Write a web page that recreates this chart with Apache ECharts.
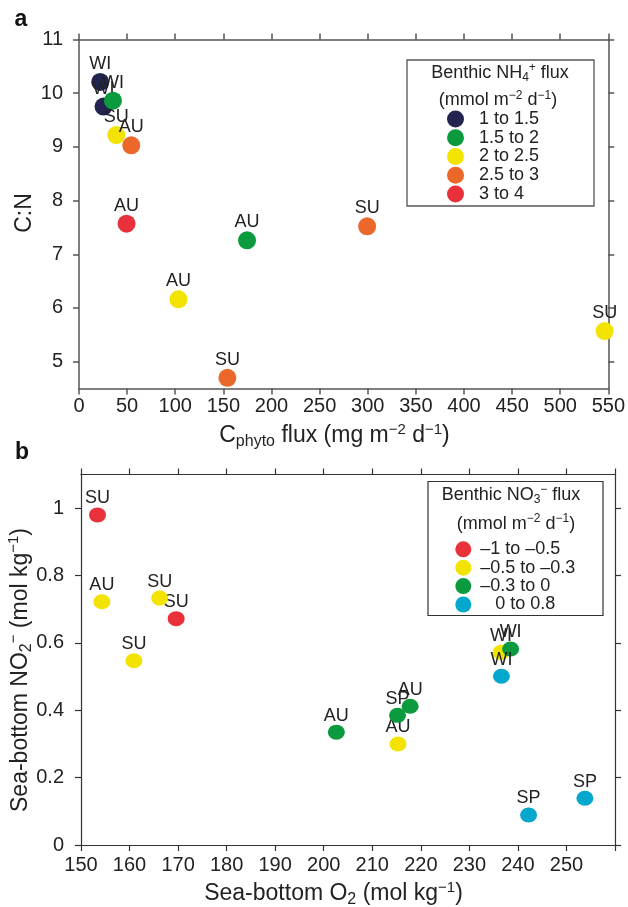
<!DOCTYPE html>
<html>
<head>
<meta charset="utf-8">
<script src="https://cdn.jsdelivr.net/npm/echarts@6/dist/echarts.min.js"></script>
<style>
html,body{margin:0;padding:0;background:#fff;}
#chart{width:628px;height:907px;}
</style>
</head>
<body>
<div id="chart"></div>
<script>
// ---------- Panel a data ----------
const aGroupNames = ['1 to 1.5', '1.5 to 2', '2 to 2.5', '2.5 to 3', '3 to 4'];
const aGroupColors = ['#22244f', '#0c9a3e', '#f2e400', '#ec682a', '#e8313a'];
const aFlux   = [22, 25.5, 35.3, 174.6, 38.7, 103.3, 546.2, 54.3, 154.2, 299.4, 49.4];
const aCN     = [10.21, 9.75, 9.86, 7.26, 9.22, 6.16, 5.57, 9.03, 4.70, 7.52, 7.57];
const aSeason = ['WI', 'WI', 'WI', 'AU', 'SU', 'AU', 'SU', 'AU', 'SU', 'SU', 'AU'];
const aGroup  = [0, 0, 1, 1, 2, 2, 2, 3, 3, 3, 4];
const aXTicks = [0, 50, 100, 150, 200, 250, 300, 350, 400, 450, 500, 550];
const aYTicks = [5, 6, 7, 8, 9, 10, 11];

// ---------- Panel b data ----------
const bGroupNames = ['\u20131 to \u20130.5', '\u20130.5 to \u20130.3', '\u20130.3 to 0', '0 to 0.8'];
const bGroupColors = ['#e8313a', '#f2e400', '#0c9a3e', '#06a7cd'];
const bO2     = [153.4, 169.6, 154.3, 166.2, 160.9, 215.3, 236.5, 202.6, 215.2, 217.8, 238.5, 236.6, 242.2, 253.8];
const bNO2    = [0.98, 0.672, 0.722, 0.733, 0.547, 0.30, 0.572, 0.335, 0.385, 0.412, 0.582, 0.501, 0.089, 0.139];
const bSeason = ['SU', 'SU', 'AU', 'SU', 'SU', 'AU', 'WI', 'AU', 'SP', 'AU', 'WI', 'WI', 'SP', 'SP'];
const bGroup  = [0, 0, 1, 1, 1, 1, 1, 2, 2, 2, 2, 3, 3, 3];
const bXTicks = [150, 160, 170, 180, 190, 200, 210, 220, 230, 240, 250];
const bYTicks = [0, 0.2, 0.4, 0.6, 0.8, 1];

const FONT = "'Liberation Sans', Arial, Helvetica, sans-serif";
const TXT = '#222';

function groupData(xs, ys, labels, groups, g) {
  const out = [];
  for (let i = 0; i < xs.length; i++) {
    if (groups[i] === g) out.push({ value: [xs[i], ys[i]], name: labels[i] });
  }
  return out;
}

function axisCommon(color, width) {
  return {
    axisLine: { show: true, onZero: false, lineStyle: { color: color, width: width } },
    axisTick: { show: true, inside: false, length: 6, lineStyle: { color: color, width: width } },
    splitLine: { show: false }
  };
}

const aAx = axisCommon('#555', 1.5);
const bAx = axisCommon('#333', 1.2);
const tickLabel = { fontSize: 20, color: TXT, fontFamily: FONT };

const series = [];
aGroupNames.forEach((nm, g) => {
  series.push({
    type: 'scatter', name: nm, xAxisIndex: 0, yAxisIndex: 0,
    z: 2 + g,
    symbol: 'circle', symbolSize: 18,
    itemStyle: { color: aGroupColors[g], opacity: 1 },
    label: { show: true, position: 'top', distance: 0, formatter: '{b}', fontSize: 18, color: TXT, fontFamily: FONT },
    emphasis: { disabled: true },
    data: groupData(aFlux, aCN, aSeason, aGroup, g)
  });
});
bGroupNames.forEach((nm, g) => {
  series.push({
    type: 'scatter', name: nm, xAxisIndex: 2, yAxisIndex: 2,
    z: 2 + g,
    symbol: 'circle', symbolSize: [17, 15],
    itemStyle: { color: bGroupColors[g], opacity: 1 },
    label: { show: true, position: 'top', distance: 0, formatter: '{b}', fontSize: 18, color: TXT, fontFamily: FONT },
    emphasis: { disabled: true },
    data: groupData(bO2, bNO2, bSeason, bGroup, g)
  });
});

const supSub = {
  n:   { fontSize: 23, lineHeight: 28, color: TXT, fontFamily: FONT },
  sub: { fontSize: 16, lineHeight: 15, verticalAlign: 'bottom', color: TXT, fontFamily: FONT },
  sup: { fontSize: 15, lineHeight: 17, verticalAlign: 'top', color: TXT, fontFamily: FONT }
};
const legSupSub = {
  n:   { fontSize: 18, lineHeight: 22, color: TXT, fontFamily: FONT },
  sub: { fontSize: 12, lineHeight: 11, verticalAlign: 'bottom', color: TXT, fontFamily: FONT },
  sup: { fontSize: 12, lineHeight: 12, verticalAlign: 'top', color: TXT, fontFamily: FONT }
};

function richText(x, y, text, rich, rot) {
  return {
    type: 'text', x: x, y: y, rotation: rot || 0, z: 100,
    style: { text: text, rich: rich, align: 'center', verticalAlign: 'middle', fill: TXT, fontFamily: FONT }
  };
}

const option = {
  backgroundColor: '#fff',
  animation: false,
  grid: [
    { left: 79, top: 39.5, width: 530, height: 349 },
    { left: 81, top: 474.5, width: 534, height: 370.5 }
  ],
  xAxis: [
    Object.assign({ type: 'value', gridIndex: 0, position: 'bottom', min: 0, max: 550, interval: 50,
      axisLabel: Object.assign({ margin: 8 }, tickLabel) }, aAx),
    Object.assign({ type: 'value', gridIndex: 0, position: 'top', min: 0, max: 550, interval: 50,
      axisLabel: { show: false } }, aAx),
    Object.assign({ type: 'value', gridIndex: 1, position: 'bottom', min: 150, max: 260, interval: 10,
      axisLabel: Object.assign({ margin: 10, customValues: bXTicks }, tickLabel) }, bAx),
    Object.assign({ type: 'value', gridIndex: 1, position: 'top', min: 150, max: 260, interval: 10,
      axisLabel: { show: false } }, bAx)
  ],
  yAxis: [
    Object.assign({}, aAx, { type: 'value', gridIndex: 0, position: 'left', min: 4.5, max: 11,
      axisTick: Object.assign({}, aAx.axisTick, { customValues: aYTicks }),
      axisLabel: Object.assign({ margin: 16, customValues: aYTicks }, tickLabel) }),
    Object.assign({}, aAx, { type: 'value', gridIndex: 0, position: 'right', min: 4.5, max: 11,
      axisTick: Object.assign({}, aAx.axisTick, { customValues: aYTicks }),
      axisLabel: { show: false } }),
    Object.assign({}, bAx, { type: 'value', gridIndex: 1, position: 'left', min: 0, max: 1.1,
      axisTick: Object.assign({}, bAx.axisTick, { customValues: bYTicks }),
      axisLabel: Object.assign({ margin: 17, customValues: bYTicks }, tickLabel) }),
    Object.assign({}, bAx, { type: 'value', gridIndex: 1, position: 'right', min: 0, max: 1.1,
      axisTick: Object.assign({}, bAx.axisTick, { customValues: bYTicks }),
      axisLabel: { show: false } })
  ],
  legend: [
    {
      data: aGroupNames, orient: 'vertical', left: 447, top: 110, padding: 0,
      itemWidth: 17, itemHeight: 17, itemGap: 0.75, icon: 'circle', selectedMode: false,
      textStyle: { fontSize: 18, color: TXT, fontFamily: FONT, padding: [0, 0, 0, 10] }
    },
    {
      data: bGroupNames, orient: 'vertical', left: 455.3, top: 540.3, padding: 0,
      itemWidth: 16, itemHeight: 16, itemGap: 0.4, icon: 'circle', selectedMode: false,
      formatter: function (n) { return n === '0 to 0.8' ? '   ' + n : n; },
      textStyle: { fontSize: 18, color: TXT, fontFamily: FONT, padding: [0, 0, 0, 4] }
    }
  ],
  graphic: [
    // legend boxes
    { type: 'rect', shape: { x: 407, y: 60, width: 187, height: 146 }, z: 50,
      style: { fill: 'none', stroke: '#555', lineWidth: 1.3 } },
    { type: 'rect', shape: { x: 428, y: 481.5, width: 175, height: 134 }, z: 50,
      style: { fill: 'none', stroke: '#333', lineWidth: 1.2 } },
    richText(500, 73, '{n|Benthic NH}{sub|4}{sup|+}{n| flux}', legSupSub),
    richText(498, 100.5, '{n|(mmol m}{sup|\u22122}{n| d}{sup|\u22121}{n|)}', legSupSub),
    richText(511, 495, '{n|Benthic NO}{sub|3}{sup|\u2212}{n| flux}', legSupSub),
    richText(516, 524, '{n|(mmol m}{sup|\u22122}{n| d}{sup|\u22121}{n|)}', legSupSub),
    // panel letters
    { type: 'text', x: 21, y: 20, z: 100,
      style: { text: 'a', fontSize: 23, fontWeight: 'bold', fill: '#111', fontFamily: FONT, align: 'center', verticalAlign: 'middle' } },
    { type: 'text', x: 22, y: 453, z: 100,
      style: { text: 'b', fontSize: 23, fontWeight: 'bold', fill: '#111', fontFamily: FONT, align: 'center', verticalAlign: 'middle' } },
    // axis titles
    richText(334.5, 436, '{n|C}{sub|phyto}{n| flux (mg m}{sup|\u22122}{n| d}{sup|\u22121}{n|)}', supSub),
    richText(25, 213, '{n|C:N}', supSub, Math.PI / 2),
    richText(333.5, 894, '{n|Sea-bottom O}{sub|2}{n| (mol kg}{sup|\u22121}{n|)}', supSub),
    richText(20.5, 670, '{n|Sea-bottom NO}{sub|2}{sup|\u2212}{n| (mol kg}{sup|\u22121}{n|)}', supSub, Math.PI / 2)
  ],
  series: series
};

const chart = echarts.init(document.getElementById('chart'), null, { renderer: 'canvas' });
chart.setOption(option);
</script>
</body>
</html>
